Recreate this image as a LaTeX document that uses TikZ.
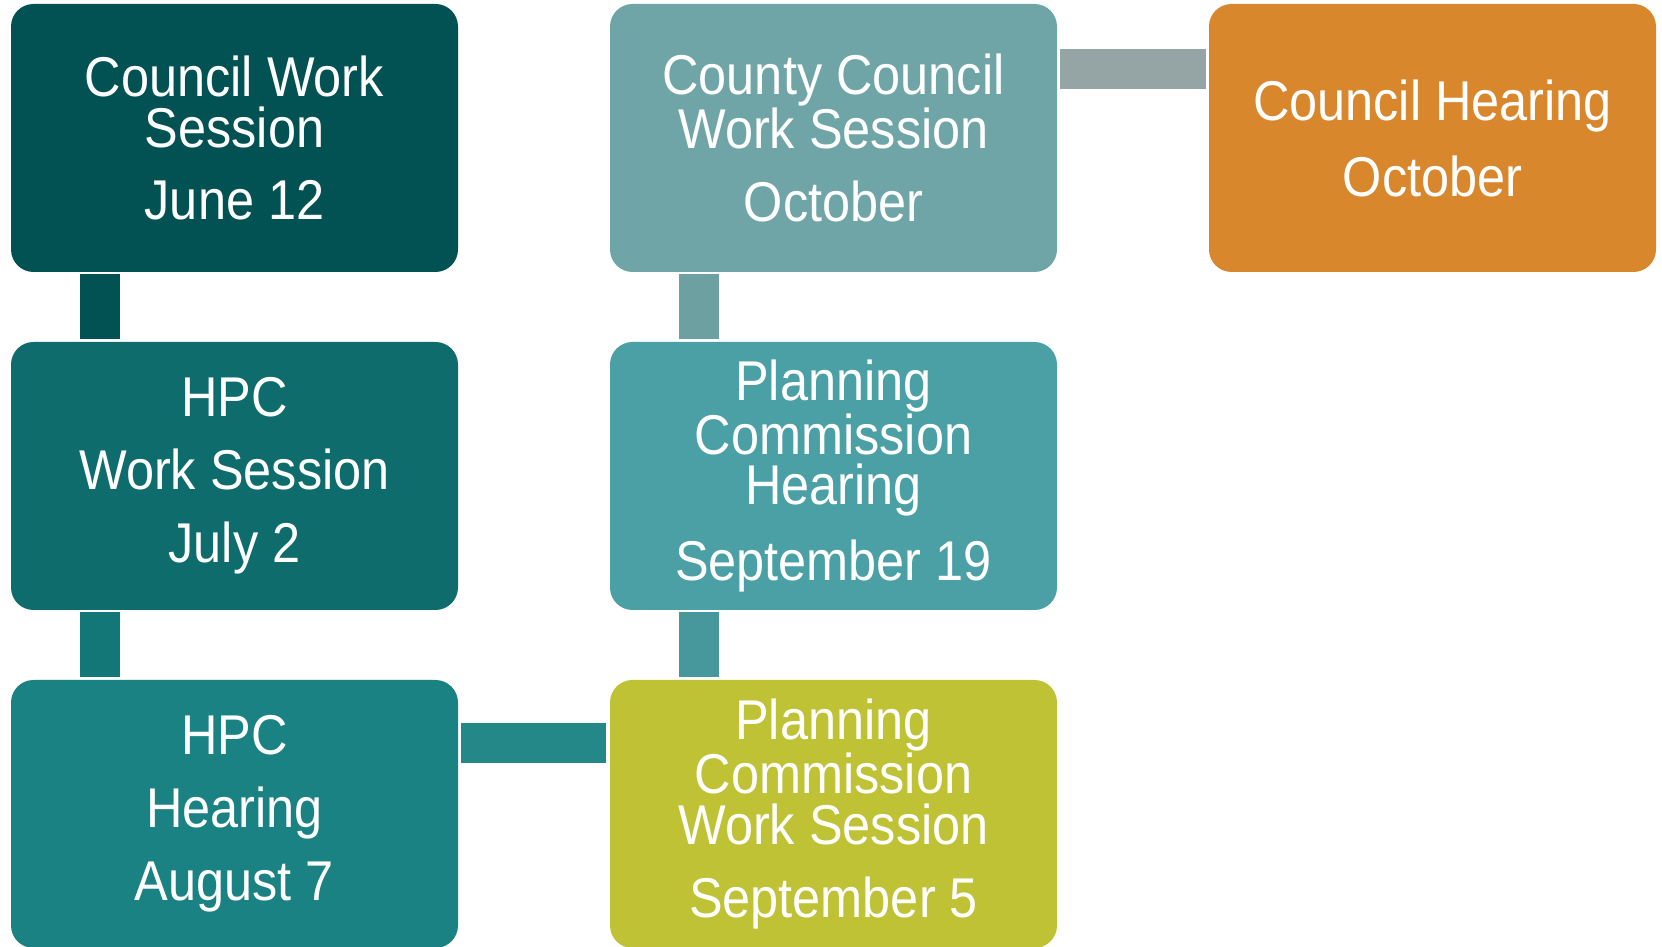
\documentclass[tikz,border=0pt]{standalone}
\usepackage{fontspec}
\setmainfont{Liberation Sans}[FakeStretch=0.9]
\usepackage{xcolor}
\usetikzlibrary{positioning}

\definecolor{councilws}{HTML}{025253}
\definecolor{hpcws}{HTML}{0E6C6C}
\definecolor{hpchear}{HTML}{1A8282}
\definecolor{pcws}{HTML}{BEC234}
\definecolor{pchear}{HTML}{4AA0A4}
\definecolor{countyws}{HTML}{6FA5A6}
\definecolor{councilhear}{HTML}{D8872D}
\definecolor{linkgray}{HTML}{95A5A5}

\begin{document}
\begin{tikzpicture}[box/.style={rectangle, rounded corners=0.45cm,
			minimum width=8.94cm, minimum height=5.36cm,
			align=center, text=white, inner sep=0pt, outer sep=0pt,
			font=\fontsize{31.9}{29}\selectfont},
			link/.style={line width=0.8cm},
			node distance=1.4cm and 3.04cm]

			\useasboundingbox (0,0) rectangle (33.24,18.94);

			\node[box, fill=councilws] (cws) at (4.69,16.18) {Council Work\\Session\\[12.5pt]June 12};
			\node[box, fill=hpcws, below=of cws] (hws) {HPC\\[12.5pt]Work Session\\[12.5pt]July 2};
			\node[box, fill=hpchear, below=of hws] (hh) {HPC\\[12.5pt]Hearing\\[12.5pt]August 7};
			\node[box, fill=pcws, right=of hh] (pws) {Planning\\Commission\\Work Session\\[12.5pt]September 5};
			\node[box, fill=pchear, above=of pws] (ph) {Planning\\Commission\\Hearing\\[12.5pt]September 19};
			\node[box, fill=countyws, above=of ph] (ccws) {County Council\\Work Session\\[12.5pt]October};
			\node[box, fill=councilhear, right=of ccws] (ch) {Council Hearing\\[12.5pt]October};

			\draw[link, councilws] ([shift={(1.78,-0.04)}]cws.south west) -- ([shift={(1.78,0.06)}]hws.north west);
			\draw[link, hpcws!50!hpchear] ([shift={(1.78,-0.04)}]hws.south west) -- ([shift={(1.78,0.06)}]hh.north west);
			\draw[link, hpchear!95!white] ([shift={(0.06,-1.26)}]hh.north east) -- ([shift={(-0.08,-1.26)}]pws.north west);
			\draw[link, pchear!95!black] ([shift={(1.78,0.06)}]pws.north west) -- ([shift={(1.78,-0.04)}]ph.south west);
			\draw[link, countyws!97!black] ([shift={(1.78,0.06)}]ph.north west) -- ([shift={(1.78,-0.04)}]ccws.south west);
			\draw[link, linkgray] ([shift={(0.06,-1.3)}]ccws.north east) -- ([shift={(-0.06,-1.3)}]ch.north west);
		\end{tikzpicture}
\end{document}
